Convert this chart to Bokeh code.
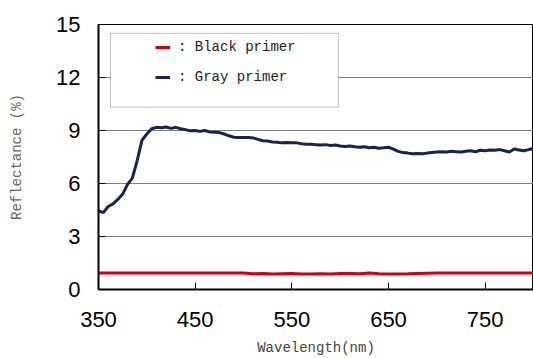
from bokeh.plotting import figure
from bokeh.models import FixedTicker, Legend, LegendItem, BoxAnnotation, Range1d
from bokeh.embed import file_html
from bokeh.resources import INLINE

# ---- data ----
gray_wl = [350, 355, 360, 365, 370, 375, 380, 385, 390, 395, 400, 405, 410, 415, 420,
           425, 430, 435, 440, 445, 450, 455, 460, 465, 470, 475, 480, 485, 490, 495,
           500, 505, 510, 515, 520, 525, 530, 535, 540, 545, 550, 555, 560, 565, 570,
           575, 580, 585, 590, 595, 600, 605, 610, 615, 620, 625, 630, 635, 640, 645,
           650, 655, 660, 665, 670, 675, 680, 685, 690, 695, 700, 705, 710, 715, 720,
           725, 730, 735, 740, 745, 750, 755, 760, 765, 770, 775, 780, 785, 790, 795, 800]
gray_refl = [4.45, 4.35, 4.70, 4.85, 5.10, 5.40, 5.95, 6.30, 7.30, 8.45, 8.80, 9.10, 9.18, 9.15, 9.20,
             9.12, 9.18, 9.10, 9.05, 8.98, 9.00, 8.95, 9.00, 8.92, 8.90, 8.88, 8.80, 8.70, 8.62, 8.60,
             8.60, 8.60, 8.58, 8.50, 8.42, 8.40, 8.35, 8.33, 8.30, 8.32, 8.30, 8.30, 8.25, 8.22, 8.22,
             8.20, 8.18, 8.20, 8.15, 8.18, 8.12, 8.10, 8.12, 8.08, 8.05, 8.08, 8.02, 8.05, 8.00, 8.02,
             8.05, 7.95, 7.82, 7.75, 7.72, 7.68, 7.70, 7.68, 7.72, 7.75, 7.78, 7.80, 7.78, 7.82, 7.80,
             7.78, 7.82, 7.85, 7.80, 7.88, 7.85, 7.90, 7.88, 7.92, 7.85, 7.78, 7.95, 7.90, 7.85, 7.92, 7.98]

black_wl = [350, 400, 450, 500, 510, 520, 530, 540, 550, 560, 570, 580, 590, 600, 610,
            620, 630, 640, 650, 660, 670, 700, 750, 800]
black_refl = [0.93, 0.93, 0.93, 0.93, 0.89, 0.90, 0.88, 0.89, 0.90, 0.88, 0.88, 0.89, 0.88, 0.90, 0.91,
              0.89, 0.93, 0.89, 0.88, 0.88, 0.89, 0.93, 0.93, 0.93]

x_ticks = [350, 450, 550, 650, 750]
y_ticks = [0, 3, 6, 9, 12, 15]

p = figure(width=533, height=358, output_backend="svg", toolbar_location=None,
           x_range=Range1d(350, 800), y_range=Range1d(0, 15),
           min_border_left=98, min_border_right=0, min_border_top=24, min_border_bottom=68)

p.outline_line_color = "black"
p.outline_line_width = 1
p.xgrid.grid_line_color = None
p.ygrid.grid_line_color = "#7f7f7f"
p.ygrid.grid_line_width = 1.2

p.xaxis.ticker = FixedTicker(ticks=x_ticks)
p.yaxis.ticker = FixedTicker(ticks=y_ticks)
for ax in (p.xaxis, p.yaxis):
    ax.axis_line_color = "black"
    ax.axis_line_width = 2
    ax.major_tick_in = 7
    ax.major_tick_out = 0
    ax.major_tick_line_color = "black"
    ax.minor_tick_line_color = None
    ax.major_label_text_font = "Liberation Sans"
    ax.major_label_text_font_size = "22px"
    ax.major_label_text_color = "black"
    ax.axis_label_text_font = "Liberation Mono"
    ax.axis_label_text_font_style = "normal"
    ax.axis_label_text_font_size = "14px"

p.xaxis.major_label_standoff = 22
p.yaxis.major_label_standoff = 18
p.xaxis.axis_label = "Wavelength(nm)"
p.yaxis.axis_label = "Reflectance (%)"
p.xaxis.axis_label_standoff = 10
p.yaxis.axis_label_standoff = 28
p.xaxis.axis_label_text_color = "#444444"
p.yaxis.axis_label_text_color = "#666666"

r_black = p.line(black_wl, black_refl, line_color="#cc0011", line_width=3)
r_gray = p.line(gray_wl, gray_refl, line_color="#1a2350", line_width=3)

box = BoxAnnotation(left=362.4, right=598.2, top=14.5, bottom=10.32,
                    fill_color="white", fill_alpha=1.0, line_color="#333333", line_width=1,
                    level="annotation")
p.add_layout(box)

legend = Legend(items=[LegendItem(label=": Black primer", renderers=[r_black]),
                       LegendItem(label=": Gray primer", renderers=[r_gray])],
                location=(57, 197), padding=0, margin=0, spacing=0,
                label_height=30, glyph_height=30, glyph_width=15, label_standoff=8,
                border_line_color=None, background_fill_alpha=0,
                label_text_font="Liberation Mono", label_text_font_size="14px",
                label_text_color="#222222")
p.add_layout(legend)

open("out.html", "w").write(file_html(p, INLINE))
